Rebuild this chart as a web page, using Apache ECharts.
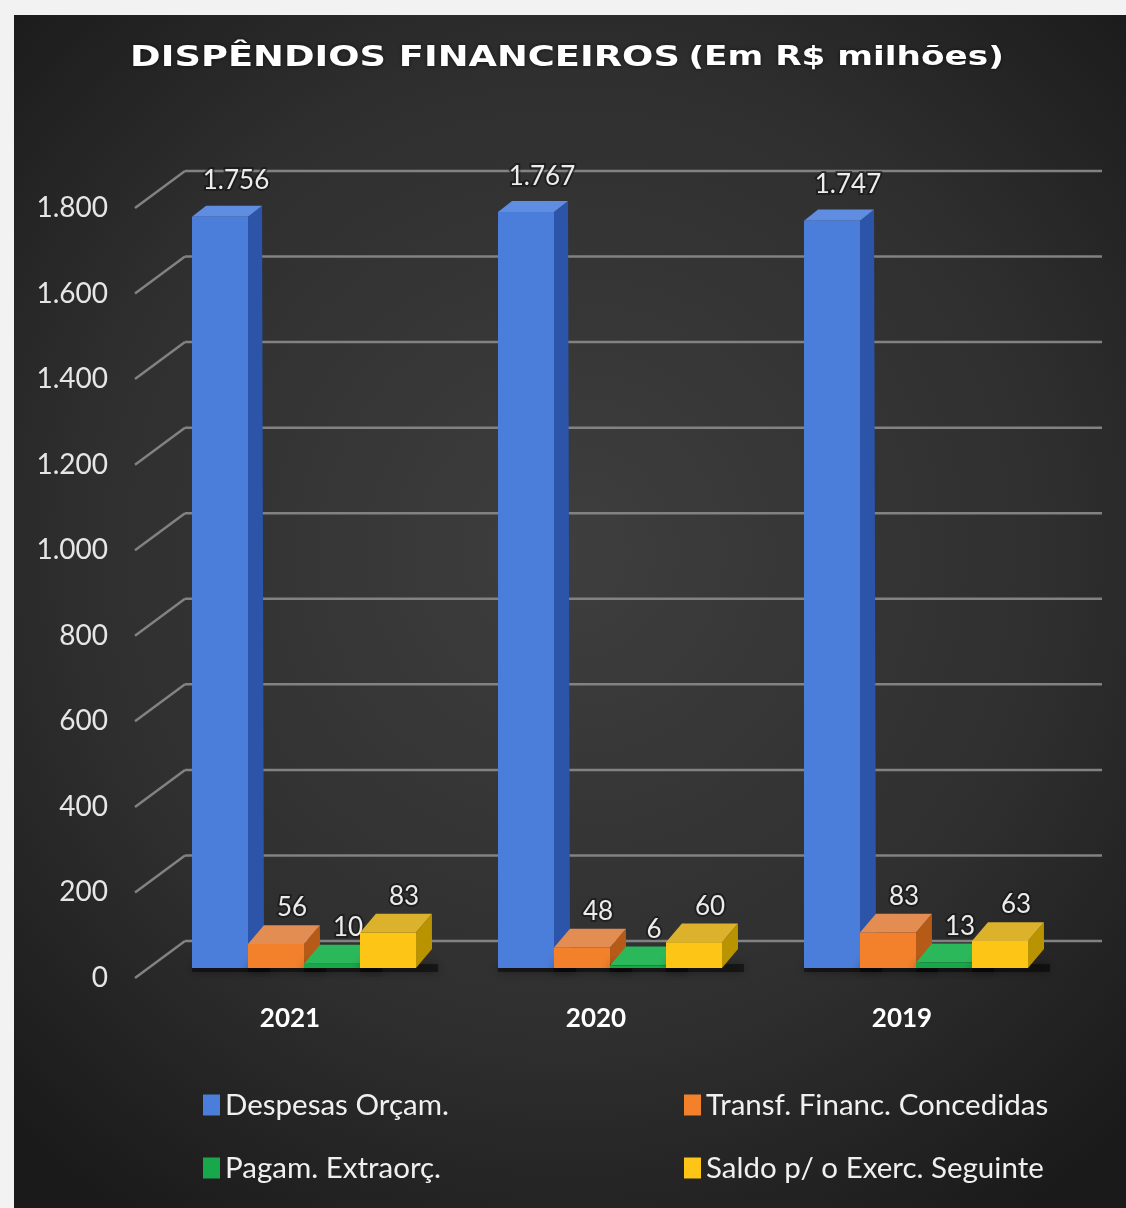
<!DOCTYPE html>
<html>
<head>
<meta charset="utf-8">
<script src="https://cdn.jsdelivr.net/npm/echarts@6/dist/echarts.min.js"></script>
<style>
  html, body { margin: 0; padding: 0; background: #f2f2f2; }
  #chart { width: 1126px; height: 1208px; }
</style>
</head>
<body>
<div id="chart"></div>
<script>
// Dispêndios financeiros, em R$ milhões
const categories = ['2021', '2020', '2019'];
const seriesNames = ['Despesas Orçam.', 'Transf. Financ. Concedidas', 'Pagam. Extraorç.', 'Saldo p/ o Exerc. Seguinte'];
const despesasOrcam = [1756, 1767, 1747];
const transfFinanc = [56, 48, 83];
const pagamExtraorc = [10, 6, 13];
const saldoExercSeguinte = [83, 60, 63];
const yTicks = [0, 200, 400, 600, 800, 1000, 1200, 1400, 1600, 1800];

const seriesValues = [despesasOrcam, transfFinanc, pagamExtraorc, saldoExercSeguinte];

// face colours of the pseudo-3D columns
const faces = [
  { front: '#4b7dda', top: '#5f8de2', side: '#2c54a8' },
  { front: '#f3812c', top: '#e38d52', side: '#b65a17' },
  { front: '#18a74a', top: '#2bb85a', side: '#0e7433' },
  { front: '#fdc515', top: '#dcb22c', side: '#b99300' }
];

const BAR_FRAC = 56 / 306;        // column width as share of a category band
const NUM_FONT = 'Lato, "Noto Sans", sans-serif';

// the camera looks down a little: low tops show a deeper top face than high ones
function depthAt(y, cs) {
  const t = (cs.y + cs.height - y) / cs.height;   // 0 at the floor, 1 at the top
  return { dx: 16 - 2 * t, dy: -19 + 8 * t };
}

function fmt(v) {
  return String(v).replace(/\B(?=(\d{3})+(?!\d))/g, '.');
}

function columnRenderer(k) {
  const f = faces[k];
  return function (params, api) {
    const cs = params.coordSys;
    const i = api.value(0), v = api.value(1);
    const base = api.coord([i, 0]);
    const top = api.coord([i, v]);
    const w = api.size([1, 0])[0] * BAR_FRAC;
    const x0 = base[0] + (k - 2) * w;
    const x1 = x0 + w;
    const yb = base[1], yt = top[1];
    const dT = depthAt(yt, cs), dB = depthAt(yb, cs);
    return {
      type: 'group',
      children: [
        { type: 'rect', shape: { x: x0, y: yb - 4, width: w + dB.dx + 6, height: 8 },
          style: { fill: 'rgba(0,0,0,0.45)', shadowBlur: 10, shadowColor: 'rgba(0,0,0,0.8)' } },
        { type: 'polygon', shape: { points: [[x1, yt], [x1 + dT.dx, yt + dT.dy], [x1 + dB.dx, yb + dB.dy], [x1, yb]] },
          style: { fill: f.side } },
        { type: 'polygon', shape: { points: [[x0, yt], [x0 + dT.dx, yt + dT.dy], [x1 + dT.dx, yt + dT.dy], [x1, yt]] },
          style: { fill: f.top } },
        { type: 'rect', shape: { x: x0, y: yt, width: w, height: yb - yt },
          style: { fill: f.front } },
        { type: 'text', x: (x0 + x1) / 2 + 16, y: yt - 36, z2: 10,
          style: { text: fmt(v), fill: '#ececec', font: '26px ' + NUM_FONT,
                   align: 'center', verticalAlign: 'middle',
                   stroke: 'rgba(20,20,20,0.6)', lineWidth: 4, strokeFirst: true } }
      ]
    };
  };
}

// back wall gridlines and the diagonal side-wall ticks
function wallRenderer(params, api) {
  const cs = params.coordSys;
  const y = api.coord([0, api.value(1)])[1];
  const style = { stroke: '#828282', lineWidth: 2.5 };
  return {
    type: 'group',
    children: [
      { type: 'line', shape: { x1: cs.x - 16, y1: y + 10, x2: cs.x + 34, y2: y - 27 }, style },
      { type: 'line', shape: { x1: cs.x + 34, y1: y - 27, x2: cs.x + cs.width + 33, y2: y - 27 }, style }
    ]
  };
}

const chart = echarts.init(document.getElementById('chart'), null, { renderer: 'canvas' });

const series = [{
  type: 'custom',
  name: 'wall',
  renderItem: wallRenderer,
  data: yTicks.map(t => [0, t]),
  encode: { x: 0, y: 1 },
  clip: false,
  silent: true,
  z: 1
}];
seriesValues.forEach((vals, k) => {
  series.push({
    type: 'custom',
    name: seriesNames[k],
    renderItem: columnRenderer(k),
    data: vals.map((v, i) => [i, v]),
    encode: { x: 0, y: 1 },
    itemStyle: { color: faces[k].front },
    clip: false,
    z: 2 + k
  });
});

const legendText = { color: '#f0f0f0', fontSize: 29.5, fontFamily: NUM_FONT };

chart.setOption({
  animation: false,
  graphic: [
    { type: 'rect', z: -10, silent: true,
      shape: { x: 14, y: 15, width: 1112, height: 1193 },
      style: { fill: new echarts.graphic.RadialGradient(0.5, 0.45, 0.72, [
        { offset: 0, color: '#3e3e3e' },
        { offset: 0.6, color: '#2f2f2f' },
        { offset: 1, color: '#1a1a1a' }
      ]) } },
    { type: 'text', x: 567, y: 58, scaleX: 1.27, z: 10, silent: true,
      style: {
        text: '{a|DISPÊNDIOS FINANCEIROS}  {b|(Em R$ milhões)}',
        align: 'center', verticalAlign: 'middle',
        rich: {
          a: { font: 'bold 29px "DejaVu Sans", sans-serif', fill: '#ffffff' },
          b: { font: 'bold 27px "DejaVu Sans", sans-serif', fill: '#ffffff' }
        },
        fill: '#ffffff',
        textShadowColor: 'rgba(0,0,0,0.6)', textShadowBlur: 4
      } }
  ],
  grid: { left: 151, right: 57, top: 198, bottom: 240 },
  xAxis: {
    type: 'category',
    data: categories,
    axisLine: { show: false },
    axisTick: { show: false },
    axisLabel: { color: '#ffffff', fontSize: 26, fontWeight: 'bold', fontFamily: NUM_FONT,
                 margin: 38, padding: [0, 28, 0, 0] }
  },
  yAxis: {
    type: 'value',
    min: 0, max: 1800, interval: 200,
    splitLine: { show: false },
    axisLine: { show: false },
    axisTick: { show: false },
    axisLabel: { color: '#e6e6e6', fontSize: 28, fontFamily: NUM_FONT, margin: 43,
                 verticalAlign: 'top', lineHeight: 20, formatter: v => fmt(v) }
  },
  legend: [
    { data: [seriesNames[0], seriesNames[2]], orient: 'vertical', left: 198, top: 1085,
      itemGap: 33, itemWidth: 17, itemHeight: 21, icon: 'rect', textStyle: legendText },
    { data: [seriesNames[1], seriesNames[3]], orient: 'vertical', left: 679, top: 1085,
      itemGap: 33, itemWidth: 17, itemHeight: 21, icon: 'rect', textStyle: legendText }
  ],
  series
});
</script>
</body>
</html>
